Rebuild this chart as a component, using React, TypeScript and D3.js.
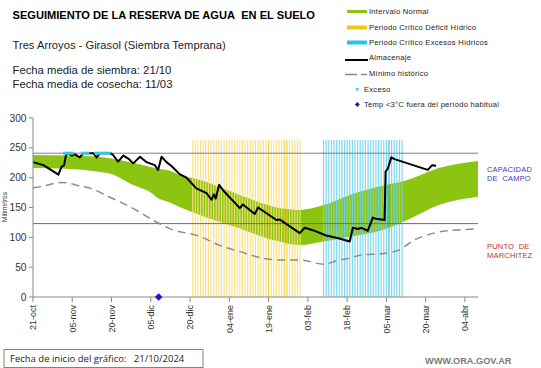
import React from "react";
import * as d3 from "d3";

const W = 541;
const H = 368;

// x axis: days since 21/10/2024
const tickDays = [0, 15, 30, 45, 60, 75, 90, 105, 120, 135, 150, 165];
const tickLabels = ["21-oct", "05-nov", "20-nov", "05-dic", "20-dic", "04-ene", "19-ene", "03-feb", "18-feb", "05-mar", "20-mar", "04-abr"];
const yTicks = [0, 50, 100, 150, 200, 250, 300];

// Intervalo normal
const bandDays = [0, 13, 25, 30, 38, 45, 48, 52, 56, 64, 72, 79, 87, 94, 102, 111, 121, 132, 143, 155, 170];
const bandUpper = [238, 237, 235, 232, 225, 218, 215, 212, 205, 196, 183, 171, 158, 149, 146, 154, 171, 185, 196, 216, 228];
const bandLower = [216, 215, 210, 206, 188, 175, 165, 159, 151, 137, 125, 115, 102, 93, 87, 93, 101, 110, 129, 154, 168];

// Almacenaje
const storageDays = [0, 4, 9.7, 10.9, 11.9, 12.6, 13.5, 14.8, 16, 17.9, 19.2, 23, 24.3, 25.6, 29.4, 30.6, 32.5, 34.5, 36.4, 38.3, 40.9, 43.4, 46.5, 47.8, 49.1, 51, 53, 56, 58.6, 62.4, 66.3, 68.2, 69.1, 69.8, 71.1, 72.6, 79, 80.2, 84.7, 86, 93, 94.2, 101.9, 103.8, 106.9, 112, 117, 121, 122.2, 124.1, 125.4, 127.9, 129.8, 131.1, 134.3, 134.7, 135.6, 136.9, 138.1, 150.8, 152.5, 154];
const storageValues = [226, 221, 205, 218, 221, 238, 241, 237, 239, 234, 241, 241, 234, 241, 241, 238, 227, 237, 232, 224, 235, 226, 221, 213, 235, 226, 219, 206, 200, 182, 174, 163, 172, 165, 188, 179, 149, 155, 139, 150, 129, 130, 107, 116, 112, 103, 98, 93, 116, 114, 116, 111, 133, 131, 129, 210, 216, 234, 231, 213, 221, 220];

// Mínimo histórico
const minDays = [0, 3, 11, 18, 22, 29, 38, 47, 52, 64, 71, 79, 89, 94, 102, 111, 117, 121, 125, 134, 140, 145, 150, 158, 170];
const minValues = [183, 185, 192, 186, 182, 168, 149, 126, 115, 101, 87, 76, 64, 62, 62, 55, 62, 65, 70, 73, 79, 94, 103, 111, 114];

// Exceso (dots) and cold days
const excessDays = [12, 13, 14, 15, 19, 20, 21, 24, 25, 26, 27, 28, 29];
const coldDays = [48];

// Critical periods
const deficitStart = 61;
const deficitEnd = 102;
const deficitStrong = [90, 96, 97];
const excessStart = 111;
const excessEnd = 141;
const excessStrong = [136];
const periodTop = 263;

const fieldCapacity = 241;
const wiltingPoint = 123;

const FONT = "'Liberation Sans', Arial, sans-serif";

export default function App() {
  const x = d3.scaleLinear().domain([0, 170]).range([33, 478]);
  const y = d3.scaleLinear().domain([0, 300]).range([297, 118]);

  const bandData = bandDays.map((d, i) => ({ d, u: bandUpper[i], l: bandLower[i] }));
  const area = d3
    .area<{ d: number; u: number; l: number }>()
    .x((p) => x(p.d))
    .y0((p) => y(p.l))
    .y1((p) => y(p.u))
    .curve(d3.curveMonotoneX);

  const storage = storageDays.map((d, i) => [d, storageValues[i]] as [number, number]);
  const minimum = minDays.map((d, i) => [d, minValues[i]] as [number, number]);
  const lineLin = d3.line<[number, number]>().x((p) => x(p[0])).y((p) => y(p[1]));
  const lineSmooth = d3
    .line<[number, number]>()
    .x((p) => x(p[0]))
    .y((p) => y(p[1]))
    .curve(d3.curveMonotoneX);

  const deficitDays = d3.range(deficitStart, deficitEnd + 1);
  const excessPeriodDays = d3.range(excessStart, excessEnd + 1);

  const legendX = 347;
  const legendTextX = 369;
  const legendRows = [11.5, 27.5, 42.5, 58.5, 73.5, 89, 104.5];

  return (
    <div style={{ position: "absolute", left: 0, top: 0 }}>
      <svg width={W} height={H} viewBox={`0 0 ${W} ${H}`} style={{ display: "block", background: "#fff" }}>
        {/* Header texts */}
        <text x={12.5} y={19} fontFamily={FONT} fontSize={11.1} fontWeight="bold" fill="#000">
          SEGUIMIENTO DE LA RESERVA DE AGUA{"\u00a0\u00a0"}EN EL SUELO
        </text>
        <text x={12.5} y={49} fontFamily={FONT} fontSize={11.2} fill="#222">
          Tres Arroyos - Girasol (Siembra Temprana)
        </text>
        <text x={12.5} y={74} fontFamily={FONT} fontSize={11.3} fill="#222">
          Fecha media de siembra: 21/10
        </text>
        <text x={12.5} y={87.5} fontFamily={FONT} fontSize={11.3} fill="#222">
          Fecha media de cosecha: 11/03
        </text>

        {/* Legend */}
        <g fontFamily={FONT} fontSize={7.6} fill="#222" letterSpacing={0.25}>
          <rect x={legendX} y={legendRows[0] - 1.5} width={20} height={3} fill="#8cc412" />
          <text x={legendTextX} y={legendRows[0] + 2.6}>Intervalo Normal</text>
          <rect x={legendX} y={legendRows[1] - 2} width={20} height={4} fill="#f5c518" />
          <text x={legendTextX} y={legendRows[1] + 2.6}>Periodo Crítico Déficit Hídrico</text>
          <rect x={legendX} y={legendRows[2] - 2} width={20} height={4} fill="#29c3ea" />
          <text x={legendTextX} y={legendRows[2] + 2.6}>Periodo Crítico Excesos Hídricos</text>
          <line x1={345} x2={368} y1={legendRows[3] + 1.5} y2={legendRows[3] + 1.5} stroke="#000" strokeWidth={2} />
          <text x={legendTextX} y={legendRows[3] + 1}>Almacenaje</text>
          <line x1={345} x2={357} y1={legendRows[4] + 1} y2={legendRows[4] + 1} stroke="#888" strokeWidth={1.5} />
          <line x1={361} x2={367} y1={legendRows[4] + 1} y2={legendRows[4] + 1} stroke="#888" strokeWidth={1.5} />
          <text x={legendTextX} y={legendRows[4] + 2.6}>Mínimo histórico</text>
          <rect x={356} y={legendRows[5] - 1} width={2.5} height={2.5} fill="#3ec8e0" />
          <text x={364} y={legendRows[5] + 2.6}>Exceso</text>
          <path d={`M357.3,${legendRows[6] - 2.5} L359.8,${legendRows[6]} L357.3,${legendRows[6] + 2.5} L354.8,${legendRows[6]} Z`} fill="#1a1acd" />
          <text x={364} y={legendRows[6] + 2.6}>Temp &lt;3°C fuera del período habitual</text>
        </g>

        {/* Normal interval band */}
        <path d={area(bandData) || ""} fill="#8cc412" />

        {/* Critical period vertical lines */}
        {deficitDays.map((d) => (
          <rect key={"df" + d} x={x(d) - 0.6} y={y(periodTop)} width={1.2} height={y(0) - y(periodTop)}
            fill={deficitStrong.includes(d) ? "#f0cf3a" : "#f6e07e"} opacity={0.9} />
        ))}
        {excessPeriodDays.map((d) => (
          <rect key={"ex" + d} x={x(d) - 0.6} y={y(periodTop)} width={1.2} height={y(0) - y(periodTop)}
            fill={excessStrong.includes(d) ? "#2ab8d8" : "#72d4ea"} opacity={0.9} />
        ))}

        {/* Reference lines */}
        <line x1={x(0)} x2={x(170)} y1={y(fieldCapacity)} y2={y(fieldCapacity)} stroke="#6a80b8" strokeWidth={1} />
        <line x1={x(0)} x2={x(170)} y1={y(wiltingPoint)} y2={y(wiltingPoint)} stroke="#c04848" strokeWidth={1} />

        {/* Minimum historical */}
        <path d={lineSmooth(minimum) || ""} fill="none" stroke="#8c8c8c" strokeWidth={1.5} strokeDasharray="8,5" />

        {/* Storage */}
        <path d={lineLin(storage) || ""} fill="none" stroke="#000" strokeWidth={2} strokeLinejoin="round" />

        {/* Excess dots */}
        {excessDays.map((d) => (
          <rect key={"e" + d} x={x(d) - 1.5} y={y(fieldCapacity) - 1.5} width={3} height={3} fill="#3ec8e0" />
        ))}

        {/* Axes */}
        <line x1={33} x2={33} y1={y(300)} y2={y(0)} stroke="#888" strokeWidth={1} />
        <line x1={33} x2={x(170)} y1={y(0)} y2={y(0)} stroke="#888" strokeWidth={1} />
        {yTicks.map((t) => (
          <g key={"yt" + t}>
            <line x1={29} x2={33} y1={y(t)} y2={y(t)} stroke="#888" />
            <text x={26.5} y={y(t) + 3.5} textAnchor="end" fontFamily={FONT} fontSize={10.2} fill="#333">{t}</text>
          </g>
        ))}
        <text transform={`translate(7,207) rotate(-90)`} textAnchor="middle" fontFamily={FONT} fontSize={6.5} fill="#333">
          Milímetros
        </text>
        {tickDays.map((t, i) => (
          <g key={"xt" + t}>
            <line x1={x(t)} x2={x(t)} y1={y(0)} y2={y(0) + 5} stroke="#888" />
            <text transform={`translate(${x(t) + 3.3},${y(0) + 8}) rotate(-90)`} textAnchor="end" fontFamily={FONT} fontSize={9} fill="#333">
              {tickLabels[i]}
            </text>
          </g>
        ))}

        {/* Cold day markers */}
        {coldDays.map((d) => (
          <path key={"c" + d} d={`M${x(d)},${y(0) - 3.8} L${x(d) + 3.8},${y(0)} L${x(d)},${y(0) + 3.8} L${x(d) - 3.8},${y(0)} Z`} fill="#1a1acd" />
        ))}

        {/* Right labels */}
        <g fontFamily={FONT} fontSize={7.5} letterSpacing={0.2}>
          <text x={487} y={172} fill="#3d3da8">CAPACIDAD</text>
          <text x={487} y={181} fill="#3d3da8">DE{"\u00a0\u00a0"}CAMPO</text>
          <text x={487} y={248.5} fill="#b83232">PUNTO{"\u00a0\u00a0"}DE</text>
          <text x={487} y={257.5} fill="#b83232">MARCHITEZ</text>
        </g>

        {/* Bottom */}
        <rect x={4} y={349.5} width={199} height={18} fill="#fff" stroke="#8a7f7f" strokeWidth={1} />
        <text x={10} y={362} fontFamily="'Open Sans', 'Liberation Sans', sans-serif" fontSize={9.5} fill="#222">
          Fecha de inicio del gráfico:{"\u00a0\u00a0"} 21/10/2024
        </text>
        <text x={425} y={363.5} fontFamily={FONT} fontSize={9.2} fontWeight="bold" fill="#7a7a7a">
          WWW.ORA.GOV.AR
        </text>
      </svg>
    </div>
  );
}
